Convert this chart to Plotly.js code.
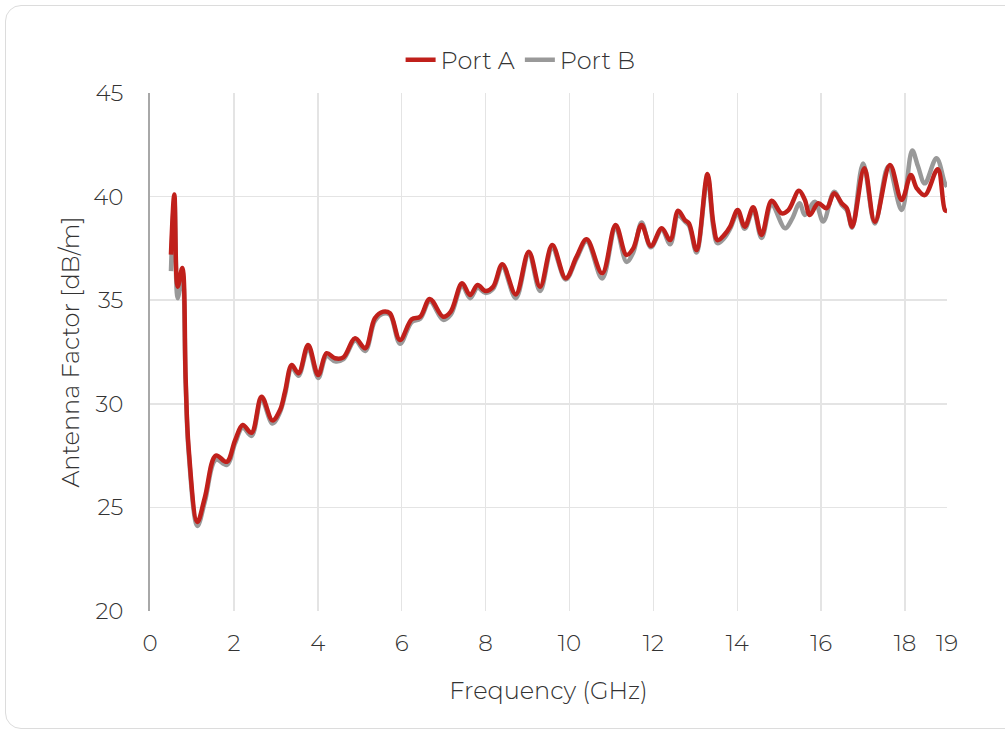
<!DOCTYPE html>
<html>
<head>
<meta charset="utf-8">
<script src="https://cdn.plot.ly/plotly-3.0.1.min.js"></script>
<style>
  html, body { margin: 0; padding: 0; background: #fff; }
  #frame { position: absolute; left: 5px; top: 5px; width: 1020px; height: 724px; border: 1.5px solid #dcdcdc; border-radius: 16px; box-sizing: border-box; }
  #chart { position: absolute; left: 0; top: 0; width: 1005px; height: 735px; }
</style>
</head>
<body>
<div id="frame"></div>
<div id="chart"></div>
<script>
// Port A (red)
const freqA = [0.50,0.58,0.66,0.77,0.85,0.92,1.13,1.31,1.57,1.83,2.03,2.21,2.42,2.66,2.92,3.10,3.22,3.38,3.54,3.77,4.01,4.21,4.41,4.61,4.89,5.13,5.36,5.56,5.72,5.96,6.24,6.44,6.67,6.99,7.17,7.44,7.63,7.81,8.00,8.18,8.40,8.72,9.03,9.30,9.59,9.91,10.17,10.41,10.78,11.10,11.36,11.52,11.72,11.94,12.20,12.40,12.59,12.75,12.85,13.03,13.29,13.43,13.53,13.69,13.83,14.01,14.18,14.38,14.58,14.82,15.06,15.22,15.47,15.61,15.73,15.93,16.13,16.31,16.49,16.61,16.74,17.03,17.28,17.64,17.92,18.14,18.28,18.47,18.78,18.95,19.00];
const portA = [37.2,40.1,35.65,36.55,31.2,27.9,24.3,25.5,27.5,27.2,28.25,28.98,28.6,30.34,29.2,29.7,30.6,31.87,31.47,32.84,31.39,32.44,32.2,32.24,33.16,32.68,34.13,34.45,34.37,33.08,34.08,34.2,35.06,34.2,34.45,35.82,35.25,35.73,35.44,35.65,36.73,35.28,37.34,35.65,37.66,36.06,37.1,37.94,36.3,38.63,37.18,37.5,38.63,37.62,38.47,37.9,39.32,38.87,38.7,37.42,41.09,38.71,37.9,38.15,38.55,39.35,38.55,39.48,38.15,39.8,39.19,39.35,40.28,39.85,39.11,39.68,39.44,40.16,39.68,39.44,38.55,41.37,38.79,41.53,39.84,41.04,40.4,40.07,41.32,39.35,39.3];

// Port B (grey)
const freqB = [0.50,0.58,0.66,0.77,0.85,0.92,1.13,1.31,1.57,1.83,2.03,2.21,2.42,2.66,2.92,3.10,3.22,3.38,3.54,3.77,4.01,4.21,4.41,4.61,4.89,5.13,5.36,5.56,5.72,5.96,6.24,6.44,6.67,6.99,7.17,7.44,7.63,7.81,8.00,8.18,8.40,8.72,9.03,9.30,9.59,9.91,10.17,10.41,10.78,11.10,11.36,11.52,11.72,11.94,12.20,12.40,12.59,12.75,12.85,13.03,13.29,13.43,13.53,13.69,13.83,14.01,14.18,14.38,14.58,14.82,15.14,15.30,15.49,15.61,15.85,16.05,16.31,16.49,16.61,16.74,17.00,17.28,17.60,17.92,18.17,18.31,18.47,18.75,18.95,19.00];
const portB = [36.4,39.8,35.1,36.3,31.0,27.7,24.1,25.3,27.3,27.05,28.1,28.85,28.45,30.2,29.05,29.6,30.45,31.75,31.35,32.7,31.25,32.3,32.05,32.15,33.05,32.55,34.0,34.35,34.3,32.9,33.95,34.1,34.95,34.05,34.3,35.7,35.1,35.6,35.35,35.55,36.6,35.1,37.2,35.45,37.5,36.0,37.0,37.85,36.05,38.5,36.85,37.3,38.75,37.55,38.4,37.7,39.1,38.8,38.6,37.3,40.9,38.5,37.75,38.0,38.45,39.2,38.45,39.35,38.0,39.6,38.47,38.9,39.68,39.11,39.75,38.8,40.24,39.6,39.35,38.5,41.6,38.7,41.45,39.35,42.22,41.45,40.64,41.85,40.64,40.48];

const xTicks = [0,2,4,6,8,10,12,14,16,18,19];
const yTicks = [20,25,30,35,40,45];

const FONT = 'Montserrat, "Open Sans", "DejaVu Sans", sans-serif';
const TXT = { family: FONT, size: 24, color: '#333333', weight: 300 };
const TICK = { family: FONT, size: 23, color: '#333333', weight: 300 };

const traces = [
  { x: freqB, y: portB, name: 'Port B', type: 'scatter', mode: 'lines',
    line: { color: '#999999', width: 4.5, shape: 'spline', smoothing: 1 } },
  { x: freqA, y: portA, name: 'Port A', type: 'scatter', mode: 'lines',
    line: { color: '#c0201b', width: 4.5, shape: 'spline', smoothing: 1 } }
];

const layout = {
  width: 1005, height: 735,
  paper_bgcolor: 'rgba(0,0,0,0)', plot_bgcolor: 'rgba(0,0,0,0)',
  margin: { l: 150, r: 58, t: 93, b: 124 },
  font: TXT,
  showlegend: true,
  legend: { orientation: 'h', x: 0.465, xanchor: 'center', y: 1.02, yanchor: 'bottom',
            traceorder: 'reversed', font: TXT, itemwidth: 30 },
  xaxis: {
    range: [0, 19], tickvals: xTicks, ticktext: xTicks.map(String),
    showgrid: true, gridcolor: '#e4e4e4', gridwidth: 1.5, zeroline: false,
    showline: false, ticks: '', ticklabelstandoff: 16, tickfont: TICK,
    title: { text: 'Frequency (GHz)', standoff: 26, font: TXT }
  },
  yaxis: {
    range: [20, 45], tickvals: yTicks, ticktext: yTicks.map(String),
    showgrid: true, gridcolor: '#e4e4e4', gridwidth: 1.5, zeroline: false,
    showline: true, linecolor: '#a8a8a8', linewidth: 2, ticks: '', ticklabelstandoff: 20, tickfont: TICK,
    title: { text: 'Antenna Factor [dB/m]', standoff: 7, font: TXT }
  }
};

Plotly.newPlot('chart', traces, layout, { displayModeBar: false, staticPlot: true });
</script>
</body>
</html>
